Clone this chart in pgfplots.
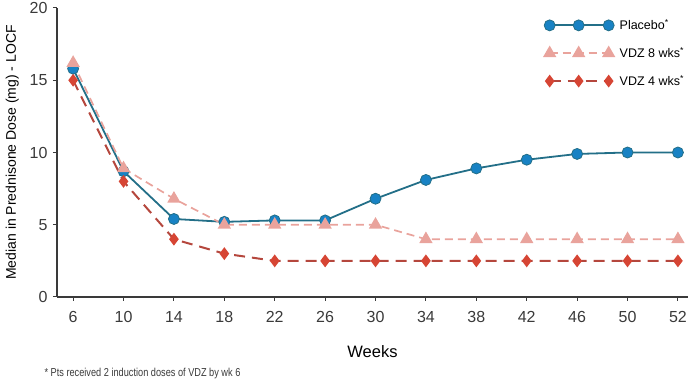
\documentclass[border=0pt]{standalone}
\usepackage{pgfplots}
\pgfplotsset{compat=1.18}
\usepackage{fontspec}
\setmainfont{Liberation Sans}
\definecolor{plline}{HTML}{236F88}
\definecolor{plmark}{HTML}{1882C4}
\definecolor{eightc}{HTML}{E9A39C}
\definecolor{fourm}{HTML}{D64534}
\definecolor{fourl}{HTML}{B5473D}
\definecolor{axc}{HTML}{3A3A3A}
\begin{document}
\begin{tikzpicture}
\begin{axis}[
  scale only axis,
  width=631pt, height=289pt,
  xmin=-0.32, xmax=12.2,
  ymin=0, ymax=20,
  axis lines=left,
  axis line style={-, axc, line width=1.3pt},
  xtick={0,...,12},
  xticklabels={6,10,14,18,22,26,30,34,38,42,46,50,52},
  ytick={0,5,10,15,20},
  tick style={axc, line width=1pt},
  major tick length=4pt,
  tick align=outside,
  ticklabel style={font=\fontsize{16}{18}\selectfont, text=axc},
  /pgf/number format/assume math mode=true,
  xticklabel style={yshift=-7pt},
  yticklabel style={xshift=-2pt},
  xlabel={Weeks},
  xlabel style={font=\fontsize{16.5}{18}\selectfont, yshift=-16pt},
  ylabel={Median in Prednisone Dose (mg) - LOCF},
  ylabel style={font=\fontsize{14}{16}\selectfont, yshift=4pt},
  clip=false,
  legend cell align=left,
  legend style={draw=none, fill=none, at={(0.767,0.975)}, anchor=north west,
    font=\fontsize{12.5}{15}\selectfont, row sep=12pt},
  legend image code/.code={\draw[#1] plot coordinates {(0pt,0pt) (29pt,0pt) (59pt,0pt)}; \path (67pt,0pt);},
]
\addplot[plline, line width=1.8pt,
  mark=*, mark size=5.5pt, mark options={solid, fill=plmark, draw=plline, line width=0.8pt}]
  coordinates {(0,15.8) (1,8.7) (2,5.4) (3,5.2) (4,5.3) (5,5.3) (6,6.8) (7,8.1) (8,8.9) (9,9.5) (10,9.9) (11,10.0) (12,10.0)};
\addlegendentry{Placebo\textsuperscript{*}}
\addplot[eightc, line width=1.7pt, dash pattern=on 8pt off 5pt,
  mark=triangle*, mark size=6pt, mark options={solid, fill=eightc, draw=eightc}]
  coordinates {(0,16.2) (1,8.9) (2,6.8) (3,5.0) (4,5.0) (5,5.0) (6,5.0) (7,4.0) (8,4.0) (9,4.0) (10,4.0) (11,4.0) (12,4.0)};
\addlegendentry{VDZ 8 wks\textsuperscript{*}}
\addplot[fourl, line width=2pt, dash pattern=on 11pt off 7pt,
  mark=diamond*, mark size=4.8pt, mark options={solid, fill=fourm, draw=fourm}]
  coordinates {(0,15.0) (1,8.0) (2,4.0) (3,3.0) (4,2.5) (5,2.5) (6,2.5) (7,2.5) (8,2.5) (9,2.5) (10,2.5) (11,2.5) (12,2.5)};
\addlegendentry{VDZ 4 wks\textsuperscript{*}}
\node[anchor=west, font=\fontsize{11.5}{13}\selectfont, text=axc, inner sep=0pt]
  at (rel axis cs:-0.02,-0.266) {\scalebox{0.8}[1]{* Pts received 2 induction doses of VDZ by wk 6}};
\end{axis}
\pgfresetboundingbox
\path[use as bounding box] (current axis.south west) ++(-57pt,-85pt) rectangle ++(690pt,382pt);
\end{tikzpicture}
\end{document}
